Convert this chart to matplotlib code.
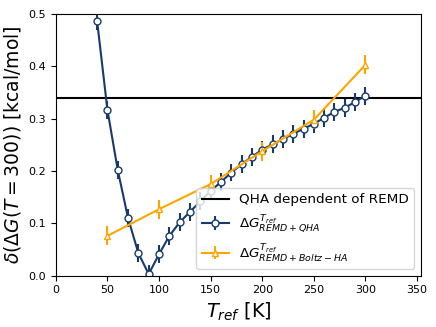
import numpy as np
from matplotlib import pyplot as plt

# data
t_qha = np.arange(40, 301, 10)
dg_qha = [0.487, 0.317, 0.202, 0.110, 0.043, 0.003, 0.041, 0.076, 0.102, 0.122,
          0.142, 0.162, 0.179, 0.197, 0.213, 0.227, 0.241, 0.251, 0.261, 0.271,
          0.281, 0.290, 0.302, 0.313, 0.321, 0.332, 0.344]
err_qha = [0.017] * len(t_qha)

t_boltz = [50, 100, 150, 200, 250, 300]
dg_boltz = [0.076, 0.127, 0.175, 0.238, 0.298, 0.403]
err_boltz = [0.018, 0.018, 0.018, 0.018, 0.018, 0.018]

remd_level = 0.34

blue = '#173a6b'
orange = '#ffa500'

fig = plt.figure(figsize=(4.36, 3.27), dpi=100)
ax = fig.add_axes([0.128, 0.157, 0.838, 0.8])

ax.axhline(remd_level, color='k', lw=1.5, label='QHA dependent of REMD')
ax.errorbar(t_qha, dg_qha, yerr=err_qha, color=blue, marker='o', ms=5,
            mfc='white', mec=blue, lw=1.5,
            label=r'$\Delta G^{T_{ref}}_{REMD+QHA}$')
ax.errorbar(t_boltz, dg_boltz, yerr=err_boltz, color=orange, marker='^', ms=5,
            mfc='white', mec=orange, lw=1.5,
            label=r'$\Delta G^{T_{ref}}_{REMD+Boltz-HA}$')

ax.set_xlim(0, 354)
ax.set_ylim(0, 0.5)
ax.tick_params(labelsize=8)
ax.set_xlabel(r'$T_{ref}$ [K]', fontsize=14)
ax.set_ylabel(r'$\delta(\Delta G(T=300))$ [kcal/mol]', fontsize=13.5)
ax.legend(loc='lower right', fontsize=9.7)

fig.savefig('out.png', dpi=100)
